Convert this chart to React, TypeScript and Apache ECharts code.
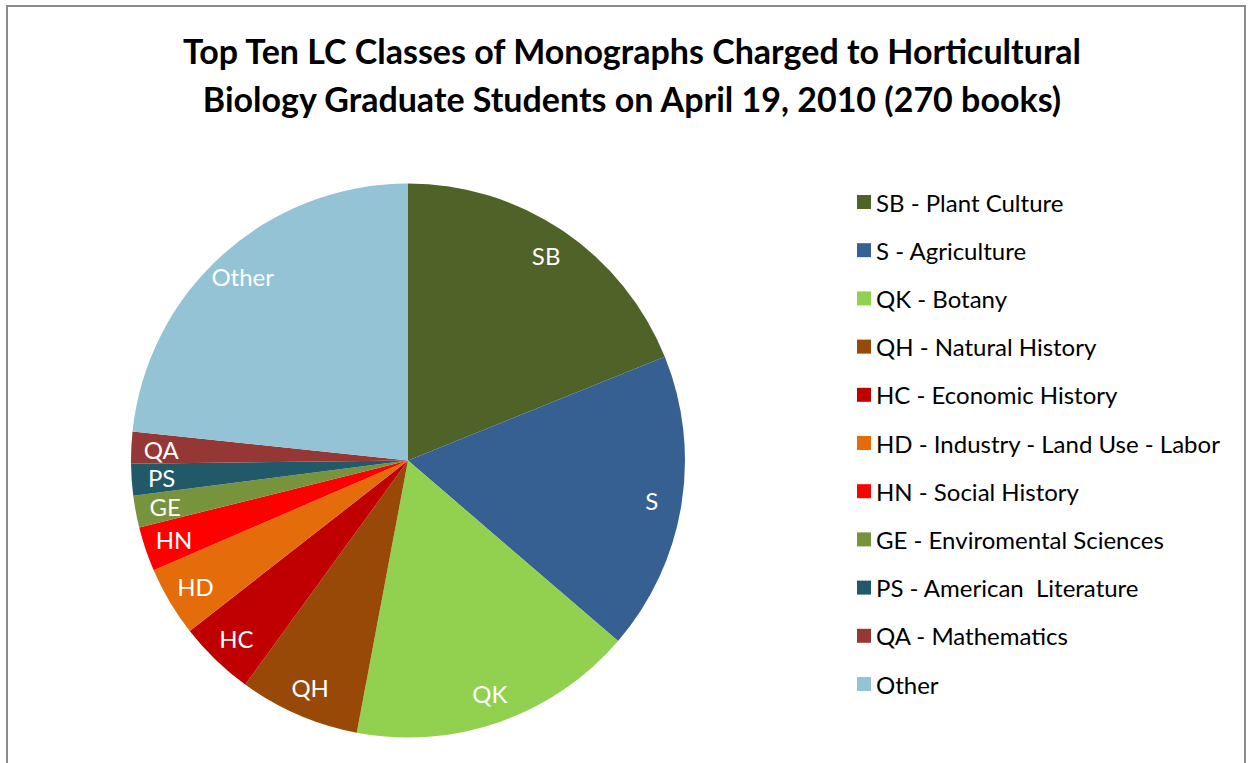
import React, { useEffect, useRef } from "react";
import * as echarts from "echarts";

const categories = ["SB", "S", "QK", "QH", "HC", "HD", "HN", "GE", "PS", "QA", "Other"];
const legendNames = [
  "SB - Plant Culture",
  "S - Agriculture",
  "QK - Botany",
  "QH - Natural History",
  "HC - Economic History",
  "HD - Industry - Land Use - Labor",
  "HN - Social History",
  "GE - Enviromental Sciences",
  "PS - American  Literature",
  "QA - Mathematics",
  "Other",
];
const books = [51, 47, 45, 19, 12, 11, 7, 5, 5, 5, 63];
const colors = [
  "#4F6228",
  "#376092",
  "#92D050",
  "#984807",
  "#C00000",
  "#E46C0A",
  "#FF0000",
  "#77933C",
  "#215968",
  "#953735",
  "#93C3D5",
];
const titleText =
  "Top Ten LC Classes of Monographs Charged to Horticultural\nBiology Graduate Students on April 19, 2010 (270 books)";

const FONT = "Lato, 'Open Sans', sans-serif";

export default function App() {
  const ref = useRef<HTMLDivElement>(null);
  useEffect(() => {
    if (!ref.current) return;
    const chart = echarts.init(ref.current, null, { renderer: "svg" });
    const data = books.map((v, i) => ({
      name: legendNames[i],
      value: v,
      itemStyle: { color: colors[i] },
    }));
    chart.setOption({
      animation: false,
      backgroundColor: "#ffffff",
      title: {
        text: titleText,
        left: 627,
        textAlign: "center",
        top: 21,
        textStyle: {
          fontFamily: FONT,
          fontWeight: "bold",
          fontSize: 34,
          lineHeight: 48,
          color: "#000000",
        },
      },
      graphic: [
        {
          type: "rect",
          shape: { x: 7, y: 6, width: 1238, height: 820 },
          style: { fill: "none", stroke: "#8a8a8a", lineWidth: 2 },
          silent: true,
        },
      ],
      legend: {
        orient: "vertical",
        left: 852,
        top: 185,
        icon: "rect",
        itemWidth: 14,
        itemHeight: 14,
        itemGap: 24.2,
        data: legendNames,
        textStyle: {
          fontFamily: FONT,
          fontSize: 24,
          lineHeight: 24,
          color: "#000000",
          padding: [0, 0, 0, 0],
        },
        selectedMode: false,
      },
      series: [
        {
          type: "pie",
          center: [408, 460.5],
          radius: [0, 277],
          startAngle: 90,
          clockwise: true,
          data,
          label: { show: false },
          labelLine: { show: false },
          emphasis: { disabled: true },
          itemStyle: { borderWidth: 0 },
        },
        {
          type: "pie",
          center: [408, 460.5],
          radius: [211, 277],
          startAngle: 90,
          clockwise: true,
          silent: true,
          data: books.map((v, i) => ({
            name: legendNames[i] + " ",
            value: v,
          })),
          itemStyle: { color: "rgba(0,0,0,0)", borderWidth: 0 },
          label: {
            show: true,
            position: "inside",
            formatter: (p: any) => categories[p.dataIndex],
            color: "#ffffff",
            fontFamily: FONT,
            fontSize: 24,
            lineHeight: 24,
          },
          labelLine: { show: false },
          emphasis: { disabled: true },
        },
      ],
    });
    return () => chart.dispose();
  }, []);
  return (
    <div
      ref={ref}
      style={{ position: "absolute", left: 0, top: 0, width: 1248, height: 763 }}
    />
  );
}
